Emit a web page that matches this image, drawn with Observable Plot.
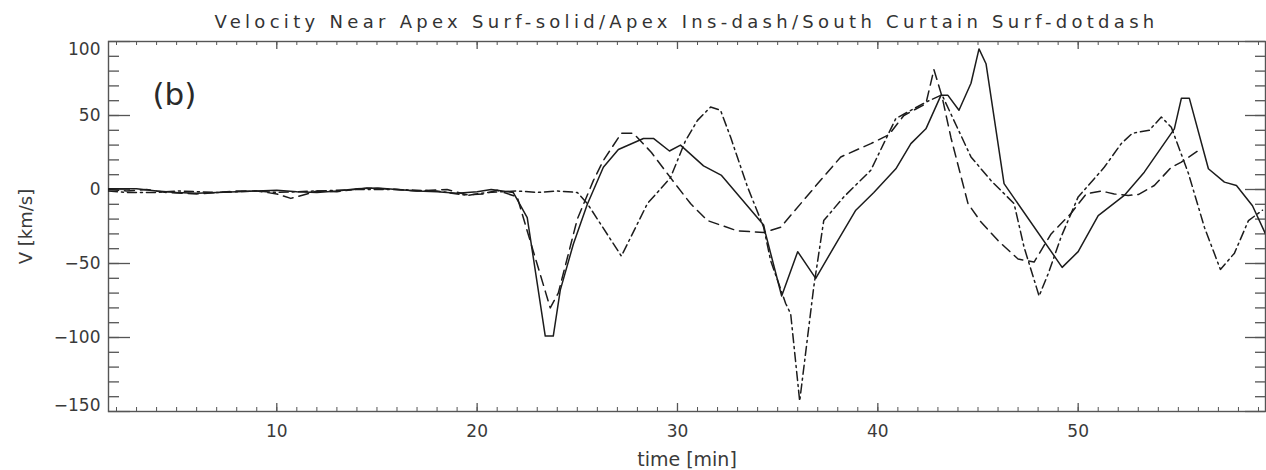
<!DOCTYPE html>
<html><head><meta charset="utf-8">
<script src="https://cdn.jsdelivr.net/npm/d3@7"></script>
<script src="https://cdn.jsdelivr.net/npm/@observablehq/plot@0.6"></script>
<style>
body{margin:0;background:#fff;}
#title{height:30px;box-sizing:border-box;padding-top:13px;line-height:18px;padding-left:108px;padding-right:1px;text-align:center;font-family:"DejaVu Sans",sans-serif;font-size:18px;letter-spacing:4.3px;color:#333;white-space:nowrap;overflow:visible;}
</style></head><body>
<div id="title">Velocity Near Apex Surf-solid/Apex Ins-dash/South Curtain Surf-dotdash</div>
<div id="chart"></div>
<script>
// Apex Surf (solid)
const solidT = [1.6,3,4,5,6,7,8,9,10,11,12,13,14,15,16,17,18,19,20,20.7,21.8,22.5,23.4,23.8,24.15,24.8,25.5,26.3,27.05,28.3,28.8,29.6,30.15,31.3,32.2,34.3,34.4,35.2,36,36.9,38,38.9,39.8,40.9,41.65,42.4,43.15,43.5,44.05,44.65,45.05,45.4,46.3,49.2,50,51,52.3,53.3,54.8,55.15,55.55,56.5,57.3,57.9,58.7,59.35];
const solidV = [0.5,0.5,-1,-2,-2.5,-2,-1.5,-1,-0.5,-1.5,-2,-1,0.5,1,0,-1,-1.5,-2.5,-1.5,0,-2,-19,-99,-99,-68,-37,-10,15,27,34.5,34.5,26,30,16,9.5,-24,-30,-72,-42,-60,-34.5,-14,-2,14,31,41,63.6,63.6,53.5,71.8,95,85,4,-52.6,-42,-17.6,-4,11.7,41,61.6,61.6,14,5,2.7,-11,-30];
// Apex Ins (dash)
const dashT = [1.6,2.5,3.5,4.5,6,7,8,9,10,10.7,11.5,12,13,14.5,16,17,18.5,19.5,20.3,21,22,22.5,23.65,24.05,25,25.8,26.3,27.2,27.8,28.7,29.65,30.65,31.5,33,34.3,35.15,37,38.15,39.65,40.55,41.3,42.4,42.8,43.2,43.65,44.5,45.15,46,47,47.8,48.65,49.65,50.4,51.15,51.8,52.5,53,53.8,54.65,55.15,56.15];
const dashV = [0,-1,0,-2,-3,-2,-1,-1,-3,-6,-3,-1,-1.5,1,0,-1,0,-3.5,-3,-0.5,-5,-28,-80,-70,-20,6,19.6,38,38,25,8,-9.5,-21,-28,-29,-25.5,4,22,31,37,50,58,81,63,35,-9.5,-22,-34.5,-47,-49,-30,-16,-3,-1,-3,-4,-3.4,2.7,15,18.5,27.7];
// South Curtain Surf (dotdash)
const dotT = [1.6,2.5,4,5,7,9,10,12,14,16,18,19.5,20.5,22,23,24,25,25.5,27.2,28.5,29.65,30.4,31,31.65,32.15,32.65,33.5,34.3,34.65,35.4,35.65,36.1,36.8,37.3,38.3,39.65,40.9,42.4,43.2,44.65,45.65,46.8,47.3,48.05,48.5,49.15,50,51.3,52.15,52.7,53.55,54.15,54.65,55.5,56.3,57.1,57.8,58.5,59.2];
const dotV = [-1,-2,-2,-1,-2,-1,-2,-1,0,0,-1,-4,-2,-1,-2,-1,-2,-9.5,-45,-9.5,8,33,46.7,55.7,53.5,35.4,1.6,-25.5,-48,-77,-84,-143,-66,-21,-5,13,48,59,64,22,6,-9.5,-39,-72,-57,-32,-5,15,31,38,40,49,42,11,-25.5,-54,-43,-21,-14];

const xTickLabels = [10,20,30,40,50];
const xMinor = d3.range(2,60);
const yTickLabels = [-150,-100,-50,0,50,100];
const yMinor = d3.range(-140,100,10);

const toRows = (T,V) => T.map((t,i)=>({t, v:V[i]}));
const solid = toRows(solidT, solidV);
const dash = toRows(dashT, dashV);
const dot = toRows(dotT, dotV);

const W = 1266, H = 440, mL = 108, mR = 1, mT = 11, mB = 59;
const pW = W - mL - mR, pH = H - mT - mB;
const ink = "#1c1c1c", axc = "#555";

const chart = Plot.plot({
  width: W, height: H,
  marginLeft: mL, marginRight: mR, marginTop: mT, marginBottom: mB,
  style: {fontFamily: "DejaVu Sans, sans-serif", fontSize: "17px", color: "#3a3a3a", background: "#fff"},
  x: {domain: [1.6, 59.35], label: null},
  y: {domain: [-150, 100], label: null},
  marks: [
    Plot.frame({stroke: axc, strokeWidth: 1.4}),
    // bottom/top ticks (inward)
    Plot.tickX(xMinor, {x: d=>d, insetTop: pH-4, stroke: axc}),
    Plot.tickX(xTickLabels, {x: d=>d, insetTop: pH-8, stroke: axc, strokeWidth: 1.3}),
    Plot.tickX(xMinor, {x: d=>d, insetBottom: pH-4, stroke: axc}),
    Plot.tickX(xTickLabels, {x: d=>d, insetBottom: pH-8, stroke: axc, strokeWidth: 1.3}),
    // left/right ticks (inward)
    Plot.tickY(yMinor, {y: d=>d, insetRight: pW-11, stroke: axc, strokeWidth: 1.3}),
    Plot.tickY(yTickLabels, {y: d=>d, insetRight: pW-22, stroke: axc, strokeWidth: 1.3}),
    Plot.tickY(yMinor, {y: d=>d, insetLeft: pW-10, stroke: axc, strokeWidth: 1.3}),
    Plot.tickY(yTickLabels, {y: d=>d, insetLeft: pW-20, stroke: axc, strokeWidth: 1.3}),
    // axes labels
    Plot.axisX(xTickLabels, {tickSize: 0, tickPadding: 13, fontSize: 17, label: null}),
    Plot.axisY([-100,-50,0,50], {tickSize: 0, tickPadding: 8, fontSize: 17, label: null}),
    Plot.axisY([100], {tickSize: 0, tickPadding: 8, fontSize: 17, label: null, dy: 8}),
    Plot.axisY([-150], {tickSize: 0, tickPadding: 8, fontSize: 17, label: null, dy: -6}),
    Plot.text(["time [min]"], {frameAnchor: "bottom", lineAnchor: "middle", textAnchor: "middle", dy: 48, fontSize: 19, fill: "#3a3a3a"}),
    Plot.text(["V [km/s]"], {frameAnchor: "left", textAnchor: "middle", lineAnchor: "middle", dx: -82, rotate: -90, fontSize: 18, fill: "#3a3a3a"}),
    Plot.text(["(b)"], {frameAnchor: "top-left", dx: 44, dy: 41, fontSize: 31, textAnchor: "start", fill: "#2a2a2a"}),
    // series
    Plot.line(solid, {x: "t", y: "v", stroke: ink, strokeWidth: 1.5, clip: true}),
    Plot.line(dash, {x: "t", y: "v", stroke: ink, strokeWidth: 1.5, strokeDasharray: "10,6", clip: true}),
    Plot.line(dot, {x: "t", y: "v", stroke: ink, strokeWidth: 1.5, strokeDasharray: "9,4,2,4", clip: true})
  ]
});
document.getElementById("chart").appendChild(chart);
</script>
</body></html>
